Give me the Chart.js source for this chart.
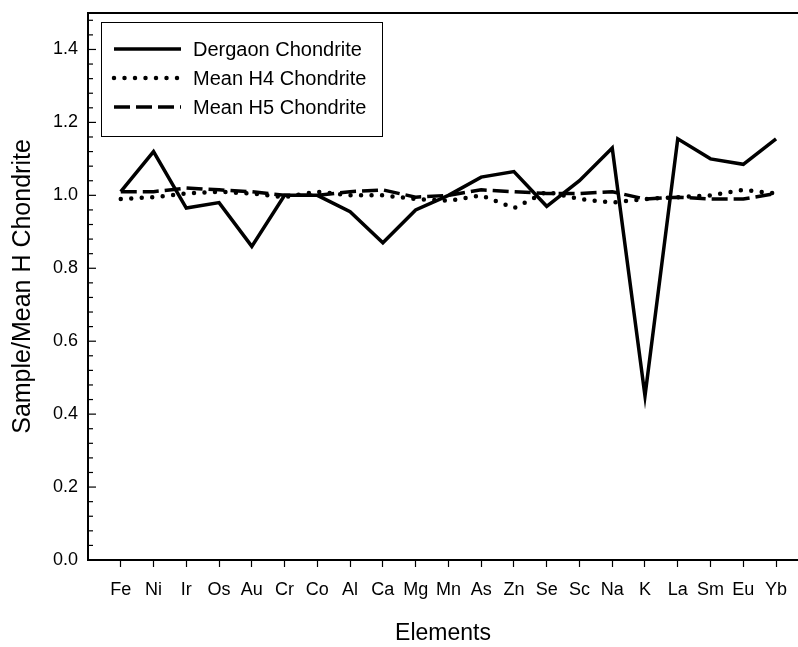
<!DOCTYPE html>
<html>
<head>
<meta charset="utf-8">
<script src="https://cdn.jsdelivr.net/npm/chart.js@4"></script>
<style>
	html, body { margin: 0; padding: 0; background: #fff; }
	#wrap { width: 798px; height: 647px; }
</style>
</head>
<body>
<div id="wrap"><canvas id="mycanvas"></canvas></div>
<script>
var elements = ['Fe','Ni','Ir','Os','Au','Cr','Co','Al','Ca','Mg','Mn','As','Zn','Se','Sc','Na','K','La','Sm','Eu','Yb'];
var dergaon = [1.01, 1.12, 0.965, 0.98, 0.86, 1.0, 1.0, 0.955, 0.87, 0.96, 1.0, 1.05, 1.065, 0.97, 1.04, 1.13, 0.45, 1.155, 1.1, 1.085, 1.155];
var meanH4 = [0.99, 0.995, 1.005, 1.01, 1.005, 0.995, 1.01, 1.0, 1.0, 0.99, 0.985, 1.0, 0.965, 1.01, 0.99, 0.98, 0.99, 0.995, 1.0, 1.015, 1.005];
var meanH5 = [1.01, 1.01, 1.02, 1.015, 1.01, 1.0, 1.0, 1.01, 1.015, 0.995, 1.0, 1.015, 1.01, 1.005, 1.005, 1.01, 0.99, 0.995, 0.99, 0.99, 1.005];
var seriesNames = ['Dergaon Chondrite', 'Mean H4 Chondrite', 'Mean H5 Chondrite'];
var yMajorTicks = [0.0, 0.2, 0.4, 0.6, 0.8, 1.0, 1.2, 1.4];

function toPoints(arr) {
	return arr.map(function(v, i) { return {x: i, y: v}; });
}

// inward ticks on the y axis, top frame line and the boxed legend
var framePlugin = {
	id: 'frame',
	afterDraw: function(chart) {
		var ctx = chart.ctx;
		var area = chart.chartArea;
		var y = chart.scales.y;
		ctx.save();
		ctx.strokeStyle = '#000';
		ctx.lineWidth = 2;
		ctx.beginPath();
		ctx.moveTo(area.left - 1, area.top);
		ctx.lineTo(area.right, area.top);
		ctx.stroke();

		ctx.lineWidth = 1.2;
		for (var k = 0; k <= 37; k++) {
			var v = k * 0.04;
			var py = y.getPixelForValue(v);
			var major = (k % 5 === 0);
			ctx.beginPath();
			ctx.moveTo(area.left, py);
			ctx.lineTo(area.left + (major ? 8 : 5), py);
			ctx.stroke();
		}

		// legend
		var lx = area.left + 13, ly = area.top + 9, lw = 281, lh = 114;
		ctx.lineWidth = 1;
		ctx.strokeRect(lx + 0.5, ly + 0.5, lw, lh);
		ctx.font = '20px "Liberation Sans", Arial, sans-serif';
		ctx.fillStyle = '#000';
		ctx.textBaseline = 'middle';
		chart.data.datasets.forEach(function(ds, i) {
			var cy = ly + 27 + i * 29;
			ctx.save();
			ctx.lineWidth = ds.borderWidth;
			ctx.setLineDash(ds.borderDash || []);
			ctx.lineCap = ds.borderCapStyle || 'butt';
			ctx.beginPath();
			ctx.moveTo(lx + 13, cy);
			ctx.lineTo(lx + 80, cy);
			ctx.stroke();
			ctx.restore();
			ctx.fillText(ds.label, lx + 92, cy + 1);
		});
		ctx.restore();
	}
};

var chartdata = {
	datasets: [
		{
			label: seriesNames[0],
			data: toPoints(dergaon),
			borderColor: '#000',
			borderWidth: 3.5,
			borderJoinStyle: 'miter',
			pointRadius: 0,
			tension: 0
		},
		{
			label: seriesNames[1],
			data: toPoints(meanH4),
			borderColor: '#000',
			borderWidth: 4.5,
			borderDash: [0, 10.5],
			borderCapStyle: 'round',
			pointRadius: 0,
			tension: 0
		},
		{
			label: seriesNames[2],
			data: toPoints(meanH5),
			borderColor: '#000',
			borderWidth: 3.5,
			borderDash: [16, 6],
			pointRadius: 0,
			tension: 0
		}
	]
};

var ctx = document.getElementById('mycanvas');

var lineGraph = new Chart(ctx, {
	type: 'line',
	data: chartdata,
	plugins: [framePlugin],
	options: {
		responsive: true,
		maintainAspectRatio: false,
		animation: false,
		layout: { padding: { top: 13, right: 0, left: 0, bottom: 0 } },
		plugins: {
			legend: { display: false },
			tooltip: { enabled: false }
		},
		scales: {
			x: {
				type: 'linear',
				min: -1,
				max: 20.67,
				afterBuildTicks: function(s) {
					s.ticks = elements.map(function(e, i) { return {value: i}; });
				},
				afterFit: function(s) {
					s.height = 87;
					s.paddingLeft = 0;
					s.paddingRight = 0;
				},
				grid: {
					drawOnChartArea: false,
					drawTicks: true,
					tickLength: 7,
					tickColor: '#000',
					tickWidth: 1.2
				},
				border: { display: true, color: '#000', width: 2 },
				ticks: {
					autoSkip: false,
					maxRotation: 0,
					padding: 12,
					color: '#000',
					font: { family: '"Liberation Sans", Arial, sans-serif', size: 18 },
					callback: function(v) { return elements[v]; }
				},
				title: {
					display: true,
					text: 'Elements',
					color: '#000',
					font: { family: '"Liberation Sans", Arial, sans-serif', size: 23 },
					padding: { top: 0, bottom: 0 }
				}
			},
			y: {
				min: 0,
				max: 1.5,
				afterBuildTicks: function(s) {
					s.ticks = yMajorTicks.map(function(v) { return {value: v}; });
				},
				afterFit: function(s) {
					s.width = 88;
					s.paddingTop = 0;
					s.paddingBottom = 0;
				},
				grid: {
					drawOnChartArea: false,
					drawTicks: false,
					tickLength: 0
				},
				border: { display: true, color: '#000', width: 2 },
				ticks: {
					padding: 10,
					color: '#000',
					font: { family: '"Liberation Sans", Arial, sans-serif', size: 18 },
					callback: function(v) { return v.toFixed(1); }
				},
				title: {
					display: true,
					text: 'Sample/Mean H Chondrite',
					color: '#000',
					font: { family: '"Liberation Sans", Arial, sans-serif', size: 25 },
					padding: { top: 8, bottom: 0 }
				}
			}
		}
	}
});
</script>
</body>
</html>
